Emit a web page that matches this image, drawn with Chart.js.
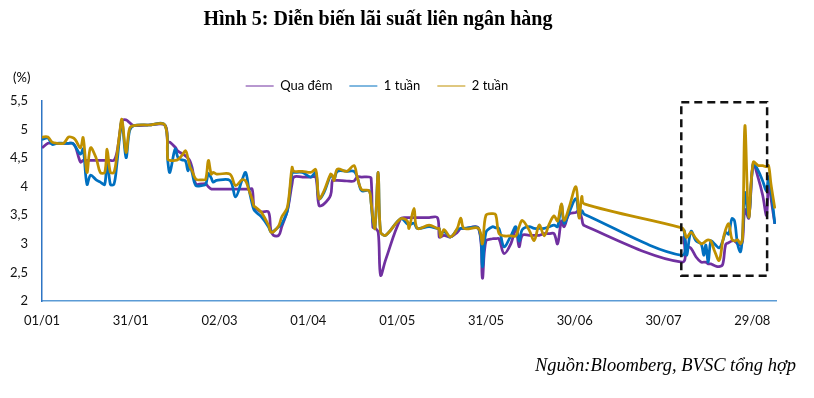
<!DOCTYPE html>
<html>
<head>
<meta charset="utf-8">
<script src="https://cdn.jsdelivr.net/npm/chart.js@4.4.0/dist/chart.umd.min.js"></script>
<style>
  html, body { margin: 0; padding: 0; background: #fff; }
</style>
</head>
<body>
<canvas id="chart" width="814" height="398"></canvas>
<script>
// days counted from 01/01/2023
const days = [
  0, 2, 3.4, 5, 7.3, 9, 10.3, 11.3, 13, 13.9,
  15.2, 16.4, 18.3, 19.7, 21.2, 22, 23.1, 24.3, 25.3, 26.2,
  27, 28.4, 29.6, 31, 36, 41.5, 42.5, 43.2, 45, 46,
  47.3, 48.5, 49.3, 50, 50.7, 52, 54, 55.3, 56.2, 57.2,
  57.8, 59, 63.5, 65.4, 67.6, 68.8, 69.9, 71, 71.6, 72.2,
  74, 76.5, 77.3, 78.2, 80, 81, 82.9, 84.5, 85.1, 88,
  90.8, 92.5, 93.6, 95.3, 97.5, 98.1, 98.7, 99.8, 103, 105.4,
  106.5, 108, 110.5, 111.2, 111.8, 112.5, 113.6, 114.4, 116.1, 121.2,
  123.4, 124, 125.7, 126.8, 130.8, 133.6, 134.2, 134.7, 135.8, 138,
  140.3, 141.5, 142.6, 147.5, 148.8, 150, 152.2, 153.3, 154.4, 156.1,
  158.4, 160.1, 161.2, 162.3, 164.6, 166.3, 168, 169.7, 171.4, 173,
  174.2, 175.5, 176.4, 178.1, 180.4, 181.5, 182.4, 183.2, 216.2, 217,
  217.8, 219.3, 221, 222.7, 223.6, 224.3, 225.1, 226, 227.2, 228.8,
  230, 231, 232, 233.1, 234, 235, 236, 236.7, 237.5, 238.8,
  240.3, 242, 243.5, 244.8, 245.5, 246.3, 247.6
];

const quaDem = [
  4.68, 4.76, 4.76, 4.76, 4.76, 4.76, 4.76, 4.70, 4.43, 4.46,
  4.46, 4.46, 4.46, 4.46, 4.46, 4.46, 4.46, 4.46, 4.60, 4.90,
  5.15, 5.17, 5.12, 5.07, 5.08, 5.08, 4.78, 4.78, 4.69, 4.62,
  4.58, 4.54, 4.50, 4.45, 4.34, 4.05, 4.05, 4.05, 4.00, 3.96,
  3.96, 3.96, 3.96, 3.96, 3.96, 3.96, 3.96, 3.96, 3.64, 3.62,
  3.56, 3.56, 3.25, 3.15, 3.15, 3.30, 3.58, 4.05, 4.17, 4.17,
  4.17, 4.17, 3.67, 3.70, 3.85, 4.11, 4.11, 4.11, 4.10, 4.10,
  4.17, 4.17, 4.17, 4.15, 3.29, 3.28, 3.20, 2.45, 2.72, 3.44,
  3.46, 3.46, 3.46, 3.46, 3.46, 3.46, 3.12, 3.12, 3.15, 3.12,
  3.20, 3.27, 3.27, 3.27, 2.40, 3.05, 3.09, 3.09, 3.09, 2.83,
  3.00, 3.27, 2.95, 3.15, 3.15, 3.15, 3.15, 3.18, 3.18, 3.18,
  3.00, 3.40, 3.30, 3.52, 3.55, 3.58, 3.44, 3.32, 2.68, 3.12,
  2.97, 2.92, 2.77, 2.68, 2.68, 2.68, 2.65, 2.65, 2.62, 2.60,
  2.64, 2.99, 3.02, 3.05, 3.05, 3.00, 2.98, 3.05, 3.60, 3.45,
  4.40, 4.15, 3.85, 3.50, 4.17, 3.80, 3.35
];

const motTuan = [
  4.83, 4.85, 4.74, 4.76, 4.76, 4.76, 4.76, 4.70, 4.57, 4.66,
  4.04, 4.20, 4.12, 4.08, 4.04, 4.51, 4.04, 4.04, 4.40, 4.85,
  5.15, 4.51, 4.98, 5.07, 5.08, 5.08, 4.45, 4.25, 4.66, 4.50,
  4.47, 4.45, 4.28, 4.38, 4.25, 4.02, 4.02, 4.04, 4.23, 4.15,
  4.08, 4.11, 4.11, 3.82, 4.12, 4.25, 3.96, 3.70, 3.60, 3.56,
  3.48, 3.30, 3.21, 3.22, 3.30, 3.35, 3.58, 4.25, 4.25, 4.25,
  4.17, 4.25, 3.79, 3.90, 4.20, 4.18, 4.12, 4.27, 4.27, 4.27,
  4.17, 3.93, 3.93, 3.72, 3.40, 3.27, 4.25, 3.21, 3.15, 3.44,
  3.35, 3.33, 3.36, 3.27, 3.30, 3.27, 3.27, 3.15, 3.22, 3.12,
  3.25, 3.27, 3.27, 3.27, 2.60, 3.20, 3.30, 3.28, 3.27, 2.95,
  3.14, 3.30, 3.05, 3.25, 3.30, 3.27, 3.27, 3.27, 3.30, 3.33,
  3.30, 3.68, 3.36, 3.55, 3.79, 3.47, 3.58, 3.52, 2.80, 3.24,
  2.80, 3.22, 3.05, 3.00, 2.80, 2.98, 2.68, 3.05, 3.00, 2.93,
  3.05, 3.20, 3.17, 3.44, 3.40, 3.00, 2.86, 3.15, 3.90, 3.47,
  4.40, 4.28, 4.10, 3.93, 4.17, 3.95, 3.35
];

const haiTuan = [
  4.87, 4.87, 4.78, 4.76, 4.76, 4.87, 4.86, 4.82, 4.68, 4.86,
  4.25, 4.68, 4.50, 4.25, 4.25, 4.66, 4.25, 4.25, 4.55, 4.92,
  5.18, 4.60, 5.02, 5.07, 5.08, 5.08, 4.48, 4.46, 4.46, 4.48,
  4.55, 4.63, 4.50, 4.35, 4.28, 4.13, 4.12, 4.13, 4.46, 4.22,
  4.25, 4.22, 4.22, 4.02, 4.12, 4.10, 3.94, 3.78, 3.66, 3.64,
  3.56, 3.33, 3.21, 3.21, 3.32, 3.47, 3.64, 4.34, 4.27, 4.27,
  4.25, 4.30, 3.79, 3.93, 4.22, 4.20, 4.11, 4.31, 4.27, 4.37,
  4.17, 3.95, 3.93, 3.72, 3.45, 3.27, 4.25, 3.21, 3.15, 3.44,
  3.40, 3.27, 3.62, 3.27, 3.33, 3.27, 3.27, 3.12, 3.25, 3.12,
  3.27, 3.45, 3.27, 3.27, 3.00, 3.50, 3.53, 3.51, 3.18, 3.14,
  3.14, 3.14, 3.30, 3.41, 3.24, 3.06, 3.33, 3.14, 3.35, 3.49,
  3.40, 3.70, 3.41, 3.64, 4.00, 3.45, 3.83, 3.70, 3.28, 3.22,
  3.11, 3.20, 3.09, 3.00, 3.02, 3.05, 3.07, 3.05, 2.88, 2.71,
  3.05, 3.25, 3.35, 3.08, 3.05, 3.07, 3.00, 3.10, 5.07, 3.47,
  4.43, 4.37, 4.37, 4.35, 4.37, 4.05, 3.62
];

const seriesNames = ['Qua đêm', '1 tuần', '2 tuần'];
const xRange = [0, 248];      // days
const yRange = [2, 5.5];      // %
const highlightDays = [216, 245];
const highlightRates = [2.44, 5.48];

const titleText = 'Hình 5: Diễn biến lãi suất liên ngân hàng';
const sourceText = 'Nguồn:Bloomberg, BVSC tổng hợp';

const toPoints = vals => days.map((d, i) => ({ x: d, y: vals[i] }));

function dayLabel(v) {
  const d = new Date(Date.UTC(2023, 0, 1 + v));
  const dd = String(d.getUTCDate()).padStart(2, '0');
  const mm = String(d.getUTCMonth() + 1).padStart(2, '0');
  return dd + '/' + mm;
}

// title, unit, source and the dashed highlight box
const decor = {
  id: 'decor',
  afterLayout(chart) {
    const lg = chart.legend;
    const pad = lg.options.labels.padding;
    const itemH = lg.height - pad - 10;
    const dy = 86 - (lg.top + pad + itemH / 2);
    const dx = 377 - (lg.left + lg.right) / 2;
    lg.top += dy; lg.bottom += dy;
    lg.left += dx; lg.right += dx;
  },
  afterDatasetsDraw(chart) {
    const { ctx, scales: { x, y } } = chart;
    const x0 = x.getPixelForValue(highlightDays[0]);
    const x1 = x.getPixelForValue(highlightDays[1]);
    const y0 = y.getPixelForValue(highlightRates[1]);
    const y1 = y.getPixelForValue(highlightRates[0]);
    ctx.save();
    ctx.setLineDash([8, 5]);
    ctx.lineWidth = 2.5;
    ctx.strokeStyle = '#111';
    ctx.strokeRect(x0, y0, x1 - x0, y1 - y0);
    ctx.restore();
  },
  afterDraw(chart) {
    const ctx = chart.ctx;
    ctx.save();
    ctx.fillStyle = '#000';
    ctx.textAlign = 'center';
    ctx.textBaseline = 'alphabetic';
    ctx.font = 'bold 20px "Liberation Serif"';
    ctx.fillText(titleText, 378, 25);

    ctx.textAlign = 'left';
    ctx.textBaseline = 'middle';
    ctx.font = '13px Lato';
    ctx.fillText('(%)', 13, 78);

    ctx.textAlign = 'right';
    ctx.textBaseline = 'alphabetic';
    ctx.font = 'italic 18.5px "Liberation Serif"';
    ctx.fillText(sourceText, 796, 371);
    ctx.restore();
  }
};

new Chart(document.getElementById('chart'), {
  type: 'line',
  data: {
    datasets: [
      { label: seriesNames[0], data: toPoints(quaDem), borderColor: '#7030A0', backgroundColor: '#7030A0', order: 3 },
      { label: seriesNames[1], data: toPoints(motTuan), borderColor: '#0070C0', backgroundColor: '#0070C0', order: 2 },
      { label: seriesNames[2], data: toPoints(haiTuan), borderColor: '#BF9000', backgroundColor: '#BF9000', order: 1 }
    ]
  },
  options: {
    responsive: false,
    animation: false,
    devicePixelRatio: 1,
    layout: { padding: { top: 61, right: 38, bottom: 57, left: 0 } },
    elements: {
      line: { borderWidth: 2.75, tension: 0.35, fill: false },
      point: { radius: 0 }
    },
    plugins: {
      tooltip: { enabled: false },
      legend: {
        position: 'top',
        labels: {
          usePointStyle: true,
          pointStyle: 'line',
          pointStyleWidth: 28,
          padding: 17,
          color: '#000',
          font: { family: 'Lato', size: 13 },
          sort: (a, b) => a.datasetIndex - b.datasetIndex
        }
      }
    },
    scales: {
      x: {
        type: 'linear',
        min: xRange[0],
        max: xRange[1],
        afterFit: s => { s.height = 40; },
        grid: { display: false, drawTicks: false },
        border: { display: true, color: '#5B9BD5', width: 1.5 },
        ticks: {
          stepSize: 30,
          includeBounds: false,
          padding: 12,
          color: '#111',
          font: { family: 'Lato', size: 13 },
          maxRotation: 0,
          autoSkip: false,
          callback: v => dayLabel(v)
        }
      },
      y: {
        min: yRange[0],
        max: yRange[1],
        afterFit: s => { s.width = 42; },
        grid: { display: false, drawTicks: false },
        border: { display: true, color: '#2E75C4', width: 1.5 },
        ticks: {
          stepSize: 0.5,
          padding: 14,
          color: '#111',
          font: { family: 'Lato', size: 13 },
          callback: v => String(v).replace('.', ',')
        }
      }
    }
  },
  plugins: [decor]
});
</script>
</body>
</html>
